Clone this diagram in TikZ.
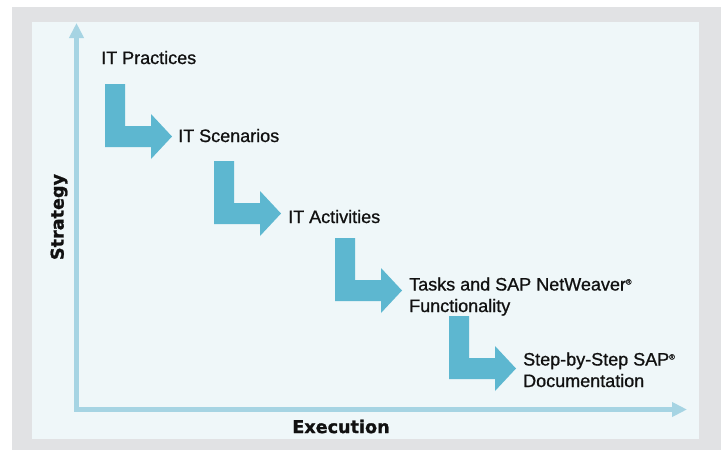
\documentclass[tikz,border=0pt]{standalone}
\usepackage{fontspec}
\setmainfont{Liberation Sans}
\newfontfamily\stagefont{Liberation Sans}[FakeBold=0.9]
\newfontfamily\heavyfont{DejaVu Sans Bold}[FakeBold=1.2]
\usetikzlibrary{arrows.meta}
\definecolor{outergray}{HTML}{E1E2E4}
\definecolor{panelblue}{HTML}{EFF7F9}
\definecolor{axisblue}{HTML}{A6D4E3}
\definecolor{arrowblue}{HTML}{5DB7D0}
\definecolor{textblack}{HTML}{111111}
\newcommand{\regmark}{\raisebox{6pt}{\fontsize{7.5}{7.5}\selectfont ®}}
\tikzset{
  stagelabel/.style={anchor=base west, inner sep=0pt, align=left, text=textblack,
    font=\stagefont\fontsize{18}{21.5}\selectfont},
  axislabel/.style={inner sep=0pt, text=textblack, font=\heavyfont\fontsize{17.6}{20}\selectfont},
  axisline/.style={draw=axisblue, line width=5pt, -{Triangle[length=15pt,width=14pt]}},
  bentarrow/.style={fill=arrowblue, draw=none}
}
\newcommand{\bentshape}[1]{%
  \fill[bentarrow] (#1) -- ++(20,0) -- ++(0,42) -- ++(26,0) -- ++(0,-12) -- ++(21,22.5)
    -- ++(-21,22.5) -- ++(0,-12) -- ++(-46,0) -- cycle;}
\begin{document}
\begin{tikzpicture}[x=1pt,y=-1pt]
\useasboundingbox (0,0) rectangle (721,450);
\fill[outergray] (12,7) rectangle (721,450);
\fill[panelblue] (32,22) rectangle (699,439);

% axes
\coordinate (origin) at (76.5,409.5);
\coordinate (ytop) at (76.5,23);
\coordinate (xend) at (687,409.5);
\draw[axisline] ([yshift=2.5pt]origin) -- (ytop);
\draw[axisline] ([xshift=-2.5pt]origin) -- (xend);
\node[axislabel, rotate=90] (strategy) at (59,217) {Strategy};
\node[axislabel] (execution) at (341,426.5) {Execution};

% bent arrows
\coordinate (a1) at (105,84);
\coordinate (a2) at (214,161);
\coordinate (a3) at (335,238);
\coordinate (a4) at (449,316);
\bentshape{a1}
\bentshape{a2}
\bentshape{a3}
\bentshape{a4}

% labels
\node[stagelabel] (practices) at (101,64) {IT Practices};
\node[stagelabel] (scenarios) at (178,142) {IT Scenarios};
\node[stagelabel] (activities) at (288,223) {IT Activities};
\node[stagelabel] (tasks) at (409,312) {Tasks and SAP NetWeaver\regmark\\Functionality};
\node[stagelabel] (steps) at (523,387) {Step-by-Step SAP\regmark\\Documentation};
\end{tikzpicture}
\end{document}
